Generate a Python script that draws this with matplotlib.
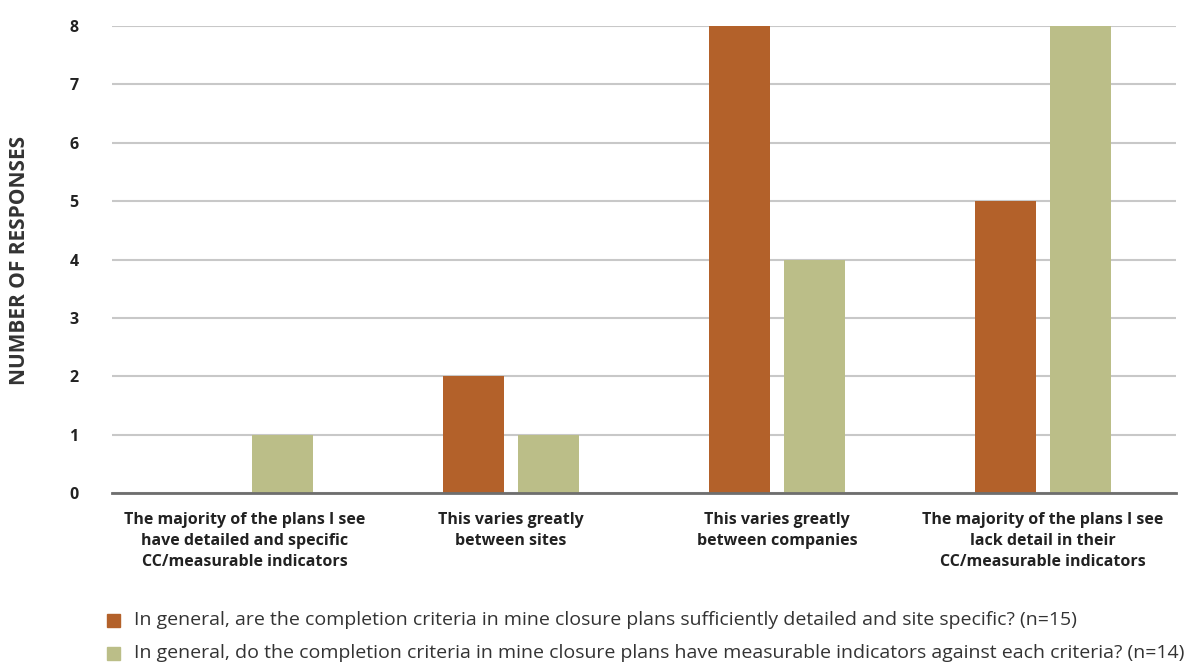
import matplotlib
matplotlib.use("Agg")
import matplotlib.pyplot as plt
import numpy as np
from matplotlib.patches import Rectangle

categories = [
    "The majority of the plans I see\nhave detailed and specific\nCC/measurable indicators",
    "This varies greatly\nbetween sites",
    "This varies greatly\nbetween companies",
    "The majority of the plans I see\nlack detail in their\nCC/measurable indicators",
]
detailed_site_specific = [0, 2, 8, 5]
measurable_indicators = [1, 1, 4, 8]
series_labels = [
    "In general, are the completion criteria in mine closure plans sufficiently detailed and site specific? (n=15)",
    "In general, do the completion criteria in mine closure plans have measurable indicators against each criteria? (n=14)",
]
y_ticks = [0, 1, 2, 3, 4, 5, 6, 7, 8]

orange = "#B3612A"
green = "#BBBE88"
text_dark = "#222222"

plt.rcParams["font.family"] = ["Open Sans", "DejaVu Sans"]

fig = plt.figure(figsize=(11.9, 6.66), dpi=100)
ax = fig.add_axes([112 / 1190, 1 - 493 / 666, (1176 - 112) / 1190, (493 - 26) / 666])

x = np.arange(len(categories))
width = 0.226
offset = 0.141
ax.bar(x - offset, detailed_site_specific, width, color=orange, zorder=3)
ax.bar(x + offset, measurable_indicators, width, color=green, zorder=3)

ax.set_xlim(-0.5, len(categories) - 0.5)
ax.set_ylim(0, 8)
ax.set_yticks(y_ticks)
ax.set_yticklabels([str(t) for t in y_ticks], fontsize=11.5, fontweight="bold", color=text_dark)
ax.tick_params(axis="y", length=0, pad=24)
ax.grid(axis="y", color="#C8C8C8", linewidth=1.5, zorder=0)
for s in ["top", "right", "left"]:
    ax.spines[s].set_visible(False)
ax.spines["bottom"].set_color("#6E6E6E")
ax.spines["bottom"].set_linewidth(2)
ax.spines["bottom"].set_zorder(4)

ax.set_xticks(x)
ax.set_xticklabels(categories, fontsize=11.5, fontweight="bold", color=text_dark, linespacing=1.38)
ax.tick_params(axis="x", length=0, pad=14)

fig.text(20 / 1190, 1 - 260 / 666, "NUMBER OF RESPONSES", rotation=90, ha="center", va="center",
         fontsize=15, fontweight="bold", color="#333333")

# legend drawn as squares with text rows below the axes
for i, (lab, col) in enumerate(zip(series_labels, [orange, green])):
    yc = 620 + i * 33
    fig.patches.append(Rectangle((107 / 1190, 1 - (yc + 6.5) / 666), 13 / 1190, 13 / 666,
                                 transform=fig.transFigure, color=col, figure=fig))
    fig.text(134 / 1190, 1 - yc / 666, lab, ha="left", va="center", fontsize=14, color="#333333")

fig.savefig("out.png", dpi=100)
